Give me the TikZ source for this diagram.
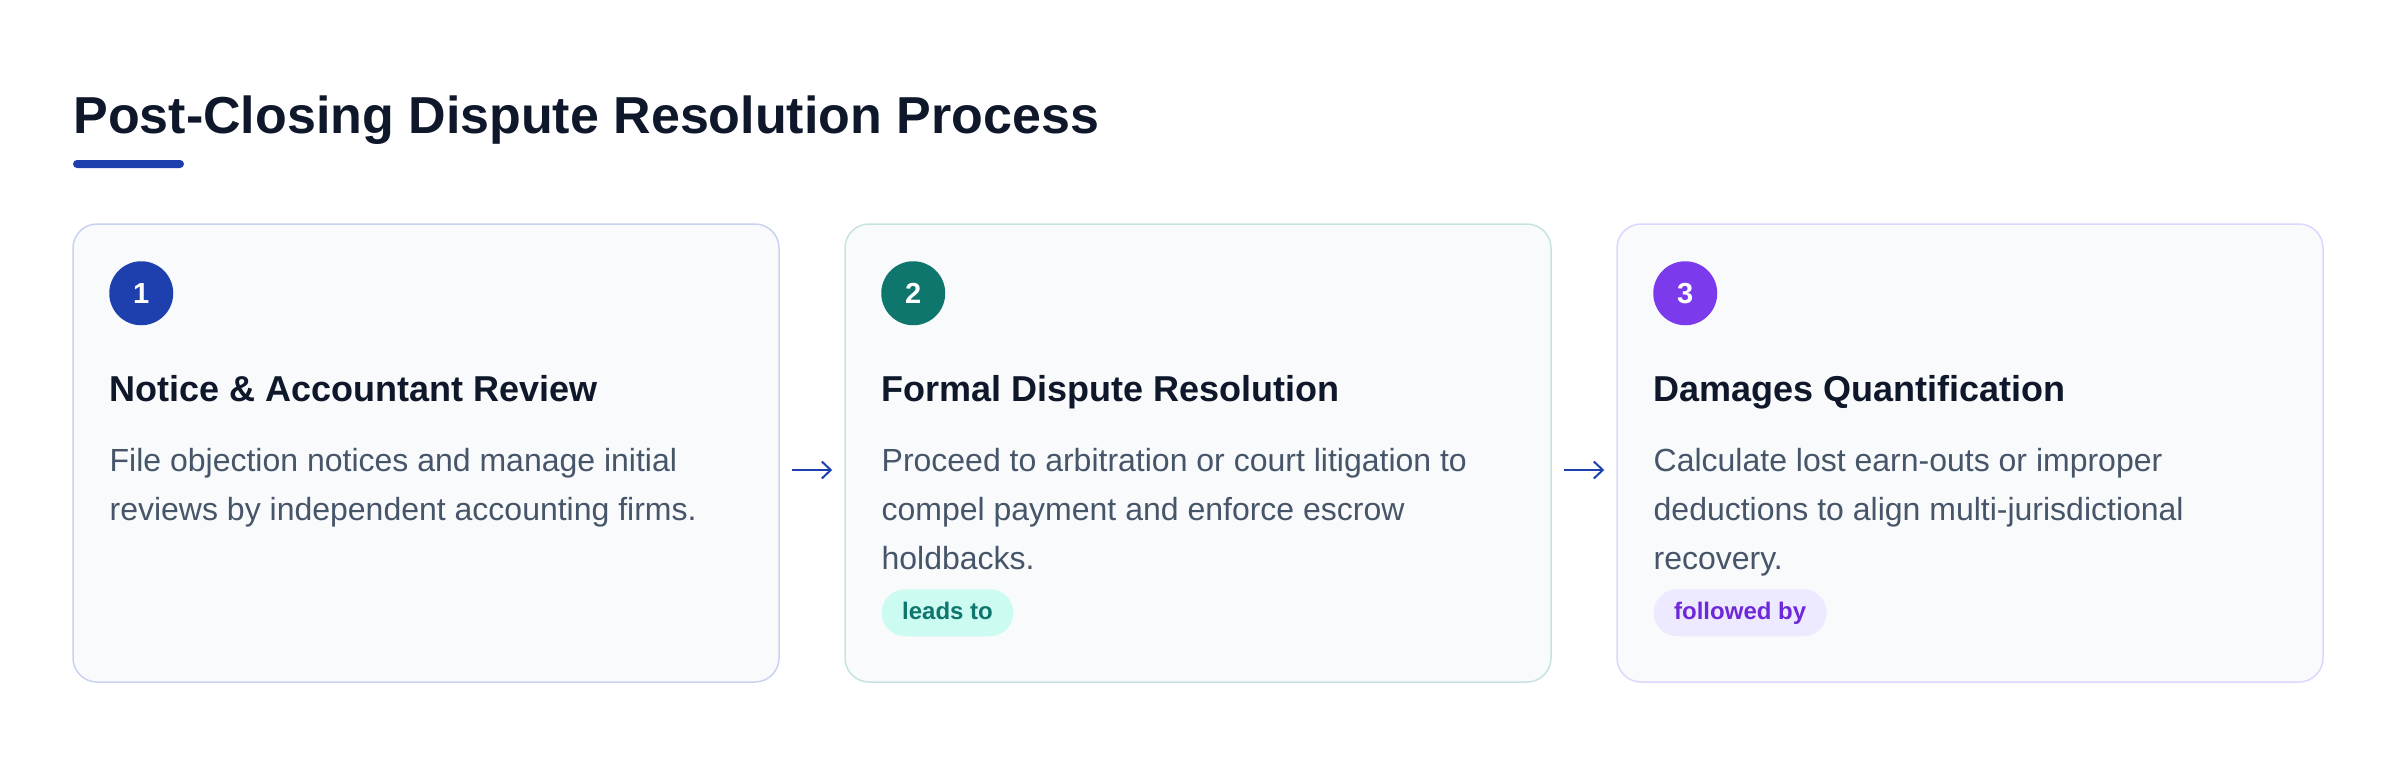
\documentclass[tikz,border=0pt]{standalone}
\usepackage{fontspec}
\setmainfont{Liberation Sans}
\usetikzlibrary{arrows.meta}

\definecolor{ink}{HTML}{0F172A}
\definecolor{bodytext}{HTML}{475569}
\definecolor{cardfill}{HTML}{F8FAFC}
\definecolor{blueA}{HTML}{1E40AF}
\definecolor{tealA}{HTML}{0F766E}
\definecolor{violetA}{HTML}{7C3AED}
\definecolor{blueLine}{HTML}{C9D3F0}
\definecolor{tealLine}{HTML}{C6E3E0}
\definecolor{violetLine}{HTML}{DDD6FE}
\definecolor{tealTag}{HTML}{CCFBF1}
\definecolor{violetTag}{HTML}{EDE9FE}
\definecolor{violetText}{HTML}{6D28D9}

\tikzset{
  card/.style={draw, line width=0.75pt, fill=cardfill, rounded corners=12pt,
    minimum width=353pt, minimum height=229pt, inner sep=0pt},
  stepnum/.style={circle, minimum size=32pt, inner sep=0pt, text=white,
    font=\bfseries\fontsize{14.5}{16}\selectfont},
  cardtitle/.style={anchor=base west, inner sep=0pt, text=ink,
    font=\bfseries\fontsize{18}{22}\selectfont},
  % base of a multi-line node sits on its last line
  cardtext/.style={anchor=base west, inner sep=0pt, align=left, text=bodytext,
    font=\fontsize{16}{24.5}\selectfont},
  tag/.style={anchor=west, rounded corners=11.75pt, minimum height=23.5pt,
    text height=7.2pt, text depth=0pt,
    inner xsep=10.25pt, inner ysep=0pt, font=\bfseries\fontsize{12}{14}\selectfont},
  flow/.style={-{Straight Barb[length=4.5pt,width=8.5pt]}, line width=1pt, blueA,
    shorten <=6pt, shorten >=6pt}
}

\begin{document}
\begin{tikzpicture}[x=0.5pt, y=-0.5pt]
  \useasboundingbox (0,0) rectangle (2400,756);

  % title and accent bar
  \node[anchor=base west, inner sep=0pt, text=ink,
    font=\bfseries\fontsize{26}{31}\selectfont] (title) at (73,133)
    {Post-Closing Dispute Resolution Process};
  \fill[blueA, rounded corners=2pt] (73,160) rectangle (184,168);

  % cards
  \node[card, draw=blueLine] (notice) at (426,453) {};
  \node[card, draw=tealLine] (formal) at (1198,453) {};
  \node[card, draw=violetLine] (damages) at (1970,453) {};

  % step 1
  \node[stepnum, fill=blueA] (numA) at ([shift={(69,70)}]notice.north west) {1};
  \node[cardtitle] (headA) at ([shift={(37,178)}]notice.north west)
    {Notice \& Accountant Review};
  \node[cardtext] (textA) at ([shift={(37,297)}]notice.north west)
    {File objection notices and manage initial\\
     reviews by independent accounting firms.};

  % step 2
  \node[stepnum, fill=tealA] (numB) at ([shift={(69,70)}]formal.north west) {2};
  \node[cardtitle] (headB) at ([shift={(37,178)}]formal.north west)
    {Formal Dispute Resolution};
  \node[cardtext] (textB) at ([shift={(37,346)}]formal.north west)
    {Proceed to arbitration or court litigation to\\
     compel payment and enforce escrow\\
     holdbacks.};
  \node[tag, fill=tealTag, text=tealA] (tagB) at ([shift={(37,389.5)}]formal.north west)
    {leads to};

  % step 3
  \node[stepnum, fill=violetA] (numC) at ([shift={(69,70)}]damages.north west) {3};
  \node[cardtitle] (headC) at ([shift={(37,178)}]damages.north west)
    {Damages Quantification};
  \node[cardtext] (textC) at ([shift={(37,346)}]damages.north west)
    {Calculate lost earn-outs or improper\\
     deductions to align multi-jurisdictional\\
     recovery.};
  \node[tag, fill=violetTag, text=violetText] (tagC) at ([shift={(37,389.5)}]damages.north west)
    {followed by};

  % connectors
  \draw[flow] ([yshift=-8.5pt]notice.east) -- ([yshift=-8.5pt]formal.west);
  \draw[flow] ([yshift=-8.5pt]formal.east) -- ([yshift=-8.5pt]damages.west);
\end{tikzpicture}
\end{document}
